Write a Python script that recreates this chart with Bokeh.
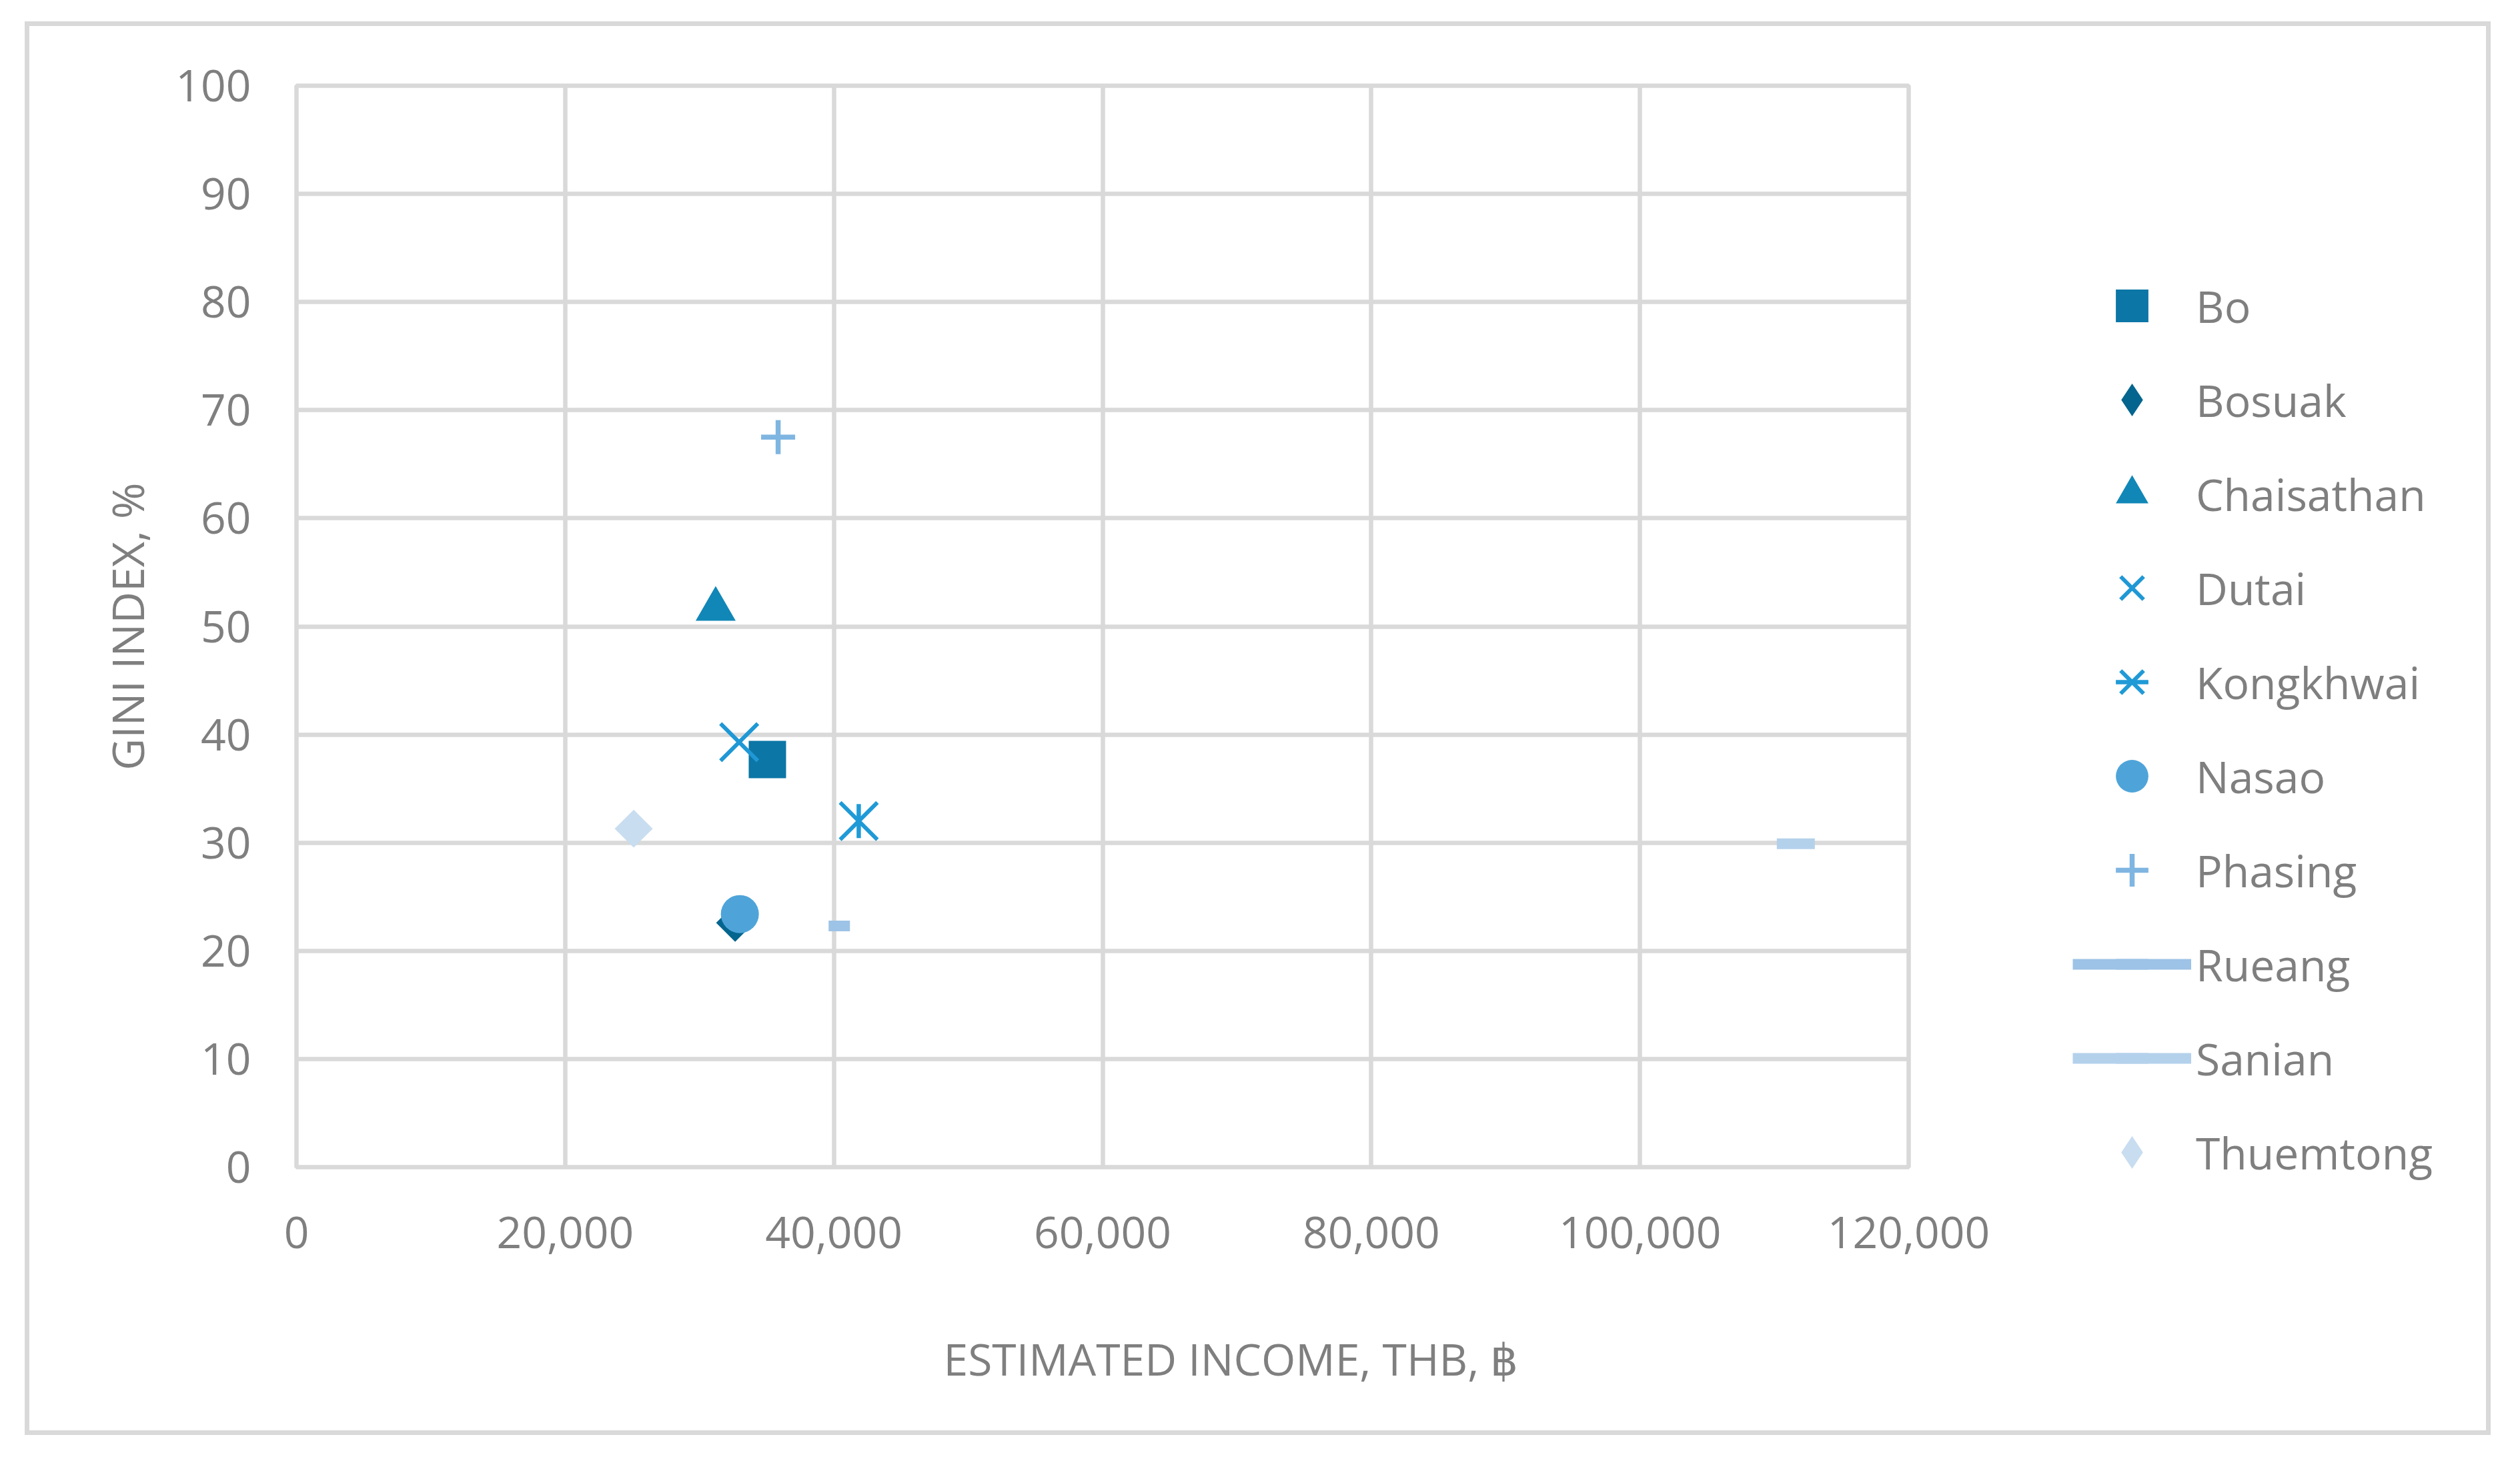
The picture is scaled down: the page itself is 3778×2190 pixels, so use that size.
import math
from bokeh.plotting import figure
from bokeh.models import (Range1d, FixedTicker, NumeralTickFormatter, Legend,
                          LegendItem, Title, ColumnDataSource)
from bokeh.embed import file_html
from bokeh.resources import INLINE

# ---------------- data ----------------
names = ["Bo", "Bosuak", "Chaisathan", "Dutai", "Kongkhwai", "Nasao",
         "Phasing", "Rueang", "Sanian", "Thuemtong"]
income = [35050, 32650, 31200, 32950, 41850, 33000, 35850, 40400, 111600, 25100]
gini = [37.7, 22.6, 51.6, 39.3, 32.0, 23.4, 67.5, 22.3, 29.9, 31.3]
x_ticks = [0, 20000, 40000, 60000, 80000, 100000, 120000]
y_ticks = [0, 10, 20, 30, 40, 50, 60, 70, 80, 90, 100]
x_title = "ESTIMATED INCOME, THB, ฿"
y_title = "GINI INDEX, %"

# ---------------- styles ----------------
colors = ["#0C76A6", "#04658F", "#1087B7", "#1F98D5", "#1F9AD6", "#4EA4D9",
          "#7FB5E1", "#9DC3E6", "#B4D1EC", "#C8DDF0"]
FONT = "Open Sans"
FS = "66px"
TXT = "#7f7f7f"
GRID = "#d9d9d9"

p = figure(width=3683, height=2105,
           x_range=Range1d(0, 120000), y_range=Range1d(0, 100),
           output_backend="svg", toolbar_location=None,
           min_border_left=400, min_border_right=866,
           min_border_top=89, min_border_bottom=395,
           margin=(39, 0, 0, 44),
           styles={"box-shadow": "0 0 0 7px #d9d9d9"},
           background_fill_color="white", border_fill_color="white")

p.outline_line_color = GRID
p.outline_line_width = 6.5

p.xaxis.ticker = FixedTicker(ticks=x_ticks)
p.yaxis.ticker = FixedTicker(ticks=y_ticks)
p.xgrid.ticker = FixedTicker(ticks=x_ticks)
p.ygrid.ticker = FixedTicker(ticks=y_ticks)
p.xaxis.formatter = NumeralTickFormatter(format="0,0")
for g in (p.xgrid, p.ygrid):
    g.grid_line_color = GRID
    g.grid_line_width = 6.5

for ax in (p.xaxis, p.yaxis):
    ax.axis_line_color = None
    ax.major_tick_line_color = None
    ax.minor_tick_line_color = None
    ax.major_tick_out = 0
    ax.major_tick_in = 0
    ax.major_label_text_font = FONT
    ax.major_label_text_font_size = FS
    ax.major_label_text_color = TXT
p.yaxis.major_label_standoff = 68
p.xaxis.major_label_standoff = 74

p.yaxis.axis_label = y_title
p.yaxis.axis_label_text_font = FONT
p.yaxis.axis_label_text_font_size = FS
p.yaxis.axis_label_text_font_style = "normal"
p.yaxis.axis_label_text_color = TXT
p.yaxis.axis_label_standoff = 25

# blank spacer between the tick labels and the x-axis title
spacer = Title(text=" ", text_font_size="1px", standoff=112,
               text_color="white")
p.add_layout(spacer, "below")
xt = Title(text=x_title, align="left", offset=970, standoff=0,
           text_font=FONT, text_font_size=FS, text_font_style="normal",
           text_color=TXT)
p.add_layout(xt, "below")

# ---------------- series ----------------
Q = math.pi / 4
legend_renderers = []
for i, name in enumerate(names):
    src = ColumnDataSource(dict(x=[income[i]], y=[gini[i]]))
    c = colors[i]
    rs = []
    if name == "Bo":
        rs.append(p.scatter("x", "y", source=src, marker="square", size=56,
                            fill_color=c, line_color=None))
    elif name in ("Bosuak", "Thuemtong"):
        p.scatter("x", "y", source=src, marker="square", size=40.3,
                  angle=Q, fill_color=c, line_color=None)
        # legend swatch (the legend does not rotate markers)
        rs.append(p.scatter("x", "y", source=src, marker="diamond", size=57,
                            fill_color=c, line_color=None, visible=False))
    elif name == "Chaisathan":
        rs.append(p.scatter("x", "y", source=src, marker="triangle", size=60,
                            fill_color=c, line_color=None))
    elif name == "Dutai":
        rs.append(p.scatter("x", "y", source=src, marker="x", size=79,
                            line_color=c, line_width=6))
    elif name == "Kongkhwai":
        rs.append(p.scatter("x", "y", source=src, marker="x", size=79,
                            line_color=c, line_width=6))
        rs.append(p.scatter("x", "y", source=src, marker="dash", size=51,
                            angle=math.pi / 2, line_color=c, line_width=6.5))
    elif name == "Nasao":
        rs.append(p.scatter("x", "y", source=src, marker="circle", size=57,
                            fill_color=c, line_color=None))
    elif name == "Phasing":
        rs.append(p.scatter("x", "y", source=src, marker="cross", size=51,
                            line_color=c, line_width=7.5))
    elif name in ("Rueang", "Sanian"):
        rs.append(p.line("x", "y", source=src, line_color=c, line_width=16))
        rs.append(p.scatter("x", "y", source=src, marker="dash",
                            size=32 if name == "Rueang" else 57,
                            line_color=c, line_width=16))
    legend_renderers.append(rs)

# ---------------- legend ----------------
GW, GH = 178, 122
items = [LegendItem(label=n, renderers=r) for n, r in zip(names, legend_renderers)]
frame_right_page = 2861
frame_bottom_page = 1749
leg_left_page = 3107
leg_bottom_page = 458 - GH / 2 + 10 * GH + 9 * 19
legend = Legend(items=items,
                location=(leg_left_page - frame_right_page,
                          frame_bottom_page - leg_bottom_page),
                glyph_width=GW, glyph_height=GH, label_height=GH,
                label_standoff=7, padding=0, margin=0, spacing=19,
                border_line_alpha=0, background_fill_alpha=0,
                inactive_fill_alpha=0,
                label_text_font=FONT, label_text_font_size=FS,
                label_text_color=TXT)
p.add_layout(legend, "right")

open("out.html", "w").write(file_html(p, INLINE))
